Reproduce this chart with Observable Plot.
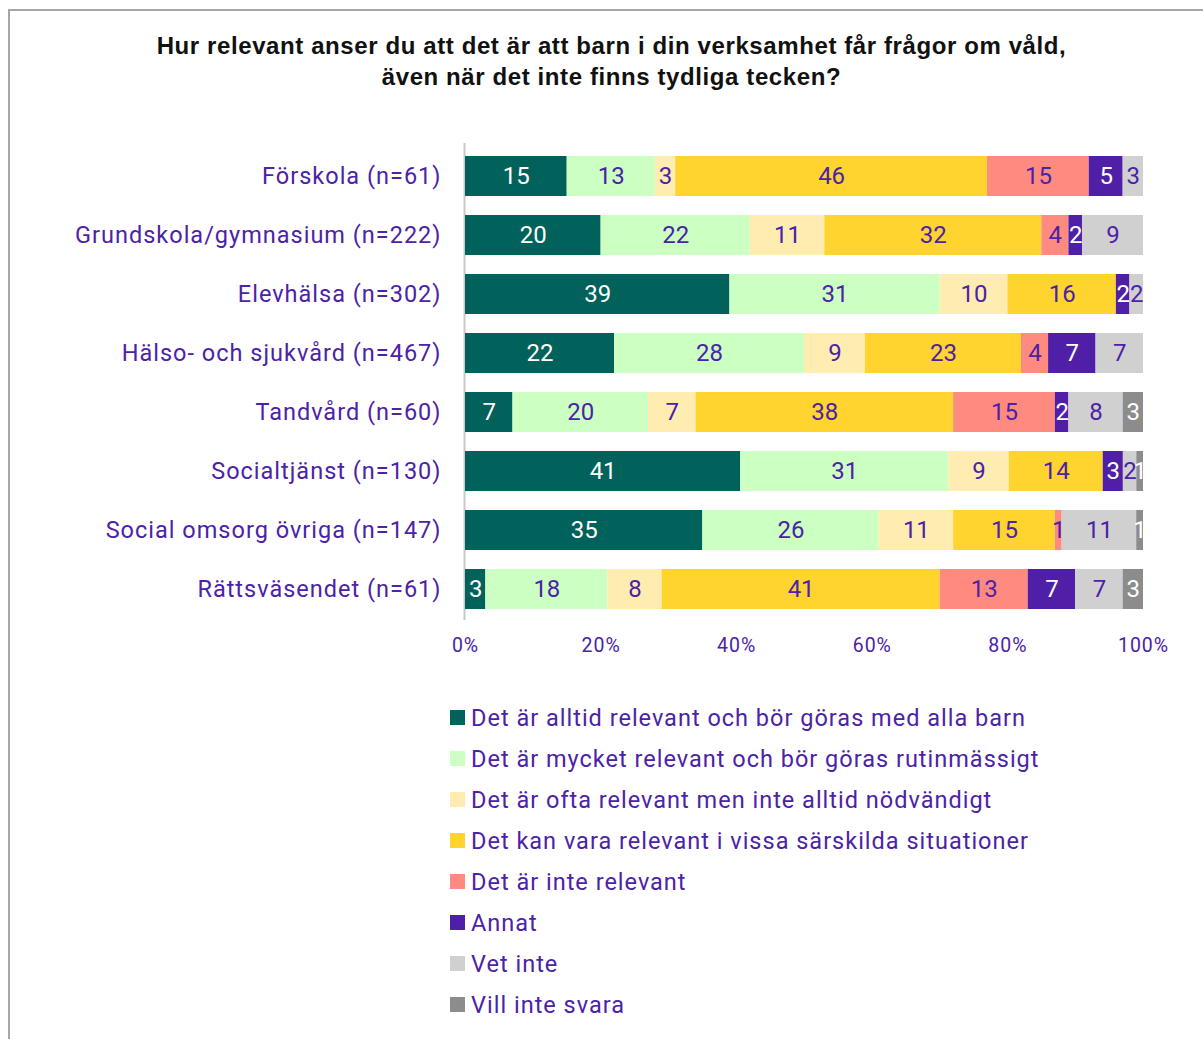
<!DOCTYPE html>
<html>
<head>
<meta charset="utf-8">
<script src="https://cdn.jsdelivr.net/npm/d3@7"></script>
<script src="https://cdn.jsdelivr.net/npm/@observablehq/plot@0.6"></script>
<style>
  html, body { margin: 0; padding: 0; background: #fff; }
  #wrap { position: relative; width: 1203px; height: 1039px; overflow: hidden; font-family: "Roboto", "Liberation Sans", sans-serif; }
  #frame { position: absolute; left: 8px; top: 9px; width: 1300px; height: 1200px; border-left: 2px solid #a6a6a6; border-top: 2px solid #a6a6a6; box-sizing: border-box; }
  #title { position: absolute; left: 0; top: 30px; width: 1223px; text-align: center; font-family: "Liberation Sans", Arial, sans-serif; font-weight: bold; font-size: 24px; letter-spacing: 0.6px; line-height: 31px; color: #111; }
  #plot { position: absolute; left: 0; top: 0; }
  #plot svg g[aria-label="y-axis tick label"] text { letter-spacing: 1px; }
  #plot svg g[aria-label="x-axis tick label"] text { letter-spacing: 1px; }
  #legend { position: absolute; left: 450px; top: 697px; }
  .li { display: flex; align-items: center; height: 41px; font-size: 23.5px; letter-spacing: 1px; color: #4b22a8; }
  .sw { width: 15px; height: 15px; margin-right: 6px; flex: none; }
</style>
</head>
<body>
<div id="wrap">
  <div id="frame"></div>
  <div id="title">Hur relevant anser du att det är att barn i din verksamhet får frågor om våld,<br>även när det inte finns tydliga tecken?</div>
  <div id="plot"></div>
  <div id="legend"></div>
</div>
<script>
const categories = [
  "Förskola (n=61)",
  "Grundskola/gymnasium (n=222)",
  "Elevhälsa (n=302)",
  "Hälso- och sjukvård (n=467)",
  "Tandvård (n=60)",
  "Socialtjänst (n=130)",
  "Social omsorg övriga (n=147)",
  "Rättsväsendet (n=61)"
];
const responses = [
  "Det är alltid relevant och bör göras med alla barn",
  "Det är mycket relevant och bör göras rutinmässigt",
  "Det är ofta relevant men inte alltid nödvändigt",
  "Det kan vara relevant i vissa särskilda situationer",
  "Det är inte relevant",
  "Annat",
  "Vet inte",
  "Vill inte svara"
];
const colors = ["#00625a", "#ccffc2", "#ffecb0", "#ffd42e", "#ff8a80", "#4f1fa8", "#d0d0d0", "#8c8c8c"];
const textColors = ["#ffffff", "#4b22a8", "#4b22a8", "#4b22a8", "#4b22a8", "#ffffff", "#4b22a8", "#ffffff"];

// values per category, in response order (percent)
const forskola      = [15, 13, 3, 46, 15, 5, 3, 0];
const grundskola    = [20, 22, 11, 32, 4, 2, 9, 0];
const elevhalsa     = [39, 31, 10, 16, 0, 2, 2, 0];
const halso         = [22, 28, 9, 23, 4, 7, 7, 0];
const tandvard      = [7, 20, 7, 38, 15, 2, 8, 3];
const socialtjanst  = [41, 31, 9, 14, 0, 3, 2, 1];
const socialomsorg  = [35, 26, 11, 15, 1, 0, 11, 1];
const rattsvasendet = [3, 18, 8, 41, 13, 7, 7, 3];
const seriesValues = [forskola, grundskola, elevhalsa, halso, tandvard, socialtjanst, socialomsorg, rattsvasendet];

const xTicks = [0, 0.2, 0.4, 0.6, 0.8, 1];

const data = [];
categories.forEach((c, i) => {
  responses.forEach((r, j) => {
    data.push({cat: c, resp: r, ri: j, value: seriesValues[i][j]});
  });
});
const labelData = data.filter(d => d.value > 0);

const stackOpts = {x: "value", y: "cat", z: "resp", offset: "normalize", order: null};

const chart = Plot.plot({
  width: 1203,
  height: 665,
  marginLeft: 465,
  marginRight: 60,
  marginTop: 146,
  marginBottom: 45,
  style: {fontFamily: "Roboto, 'Liberation Sans', sans-serif", background: "transparent"},
  x: {domain: [0, 1], ticks: xTicks, tickFormat: d3.format(".0%"), label: null},
  y: {domain: categories, label: null, paddingInner: 0.32, paddingOuter: 0.16},
  color: {domain: responses, range: colors},
  marks: [
    Plot.axisX({ticks: xTicks, tickFormat: d3.format(".0%"), tickSize: 0, tickPadding: 18, fontSize: 19.5, fill: "#4b22a8", label: null}),
    Plot.axisY({tickSize: 0, tickPadding: 24, fontSize: 23.5, fill: "#4b22a8", label: null}),
    Plot.ruleX([0], {stroke: "#c8c8c8", strokeWidth: 2, dx: -1, insetTop: -3}),
    Plot.barX(data, Plot.stackX({...stackOpts, fill: "resp"})),
    Plot.text(labelData, Plot.stackX({...stackOpts, text: d => String(d.value), fill: d => textColors[d.ri], fontSize: 24}))
  ]
});
document.getElementById("plot").appendChild(chart);

const legend = document.getElementById("legend");
responses.forEach((r, j) => {
  const row = document.createElement("div");
  row.className = "li";
  const sw = document.createElement("div");
  sw.className = "sw";
  sw.style.background = colors[j];
  const t = document.createElement("span");
  t.textContent = r;
  row.appendChild(sw);
  row.appendChild(t);
  legend.appendChild(row);
});
</script>
</body>
</html>
